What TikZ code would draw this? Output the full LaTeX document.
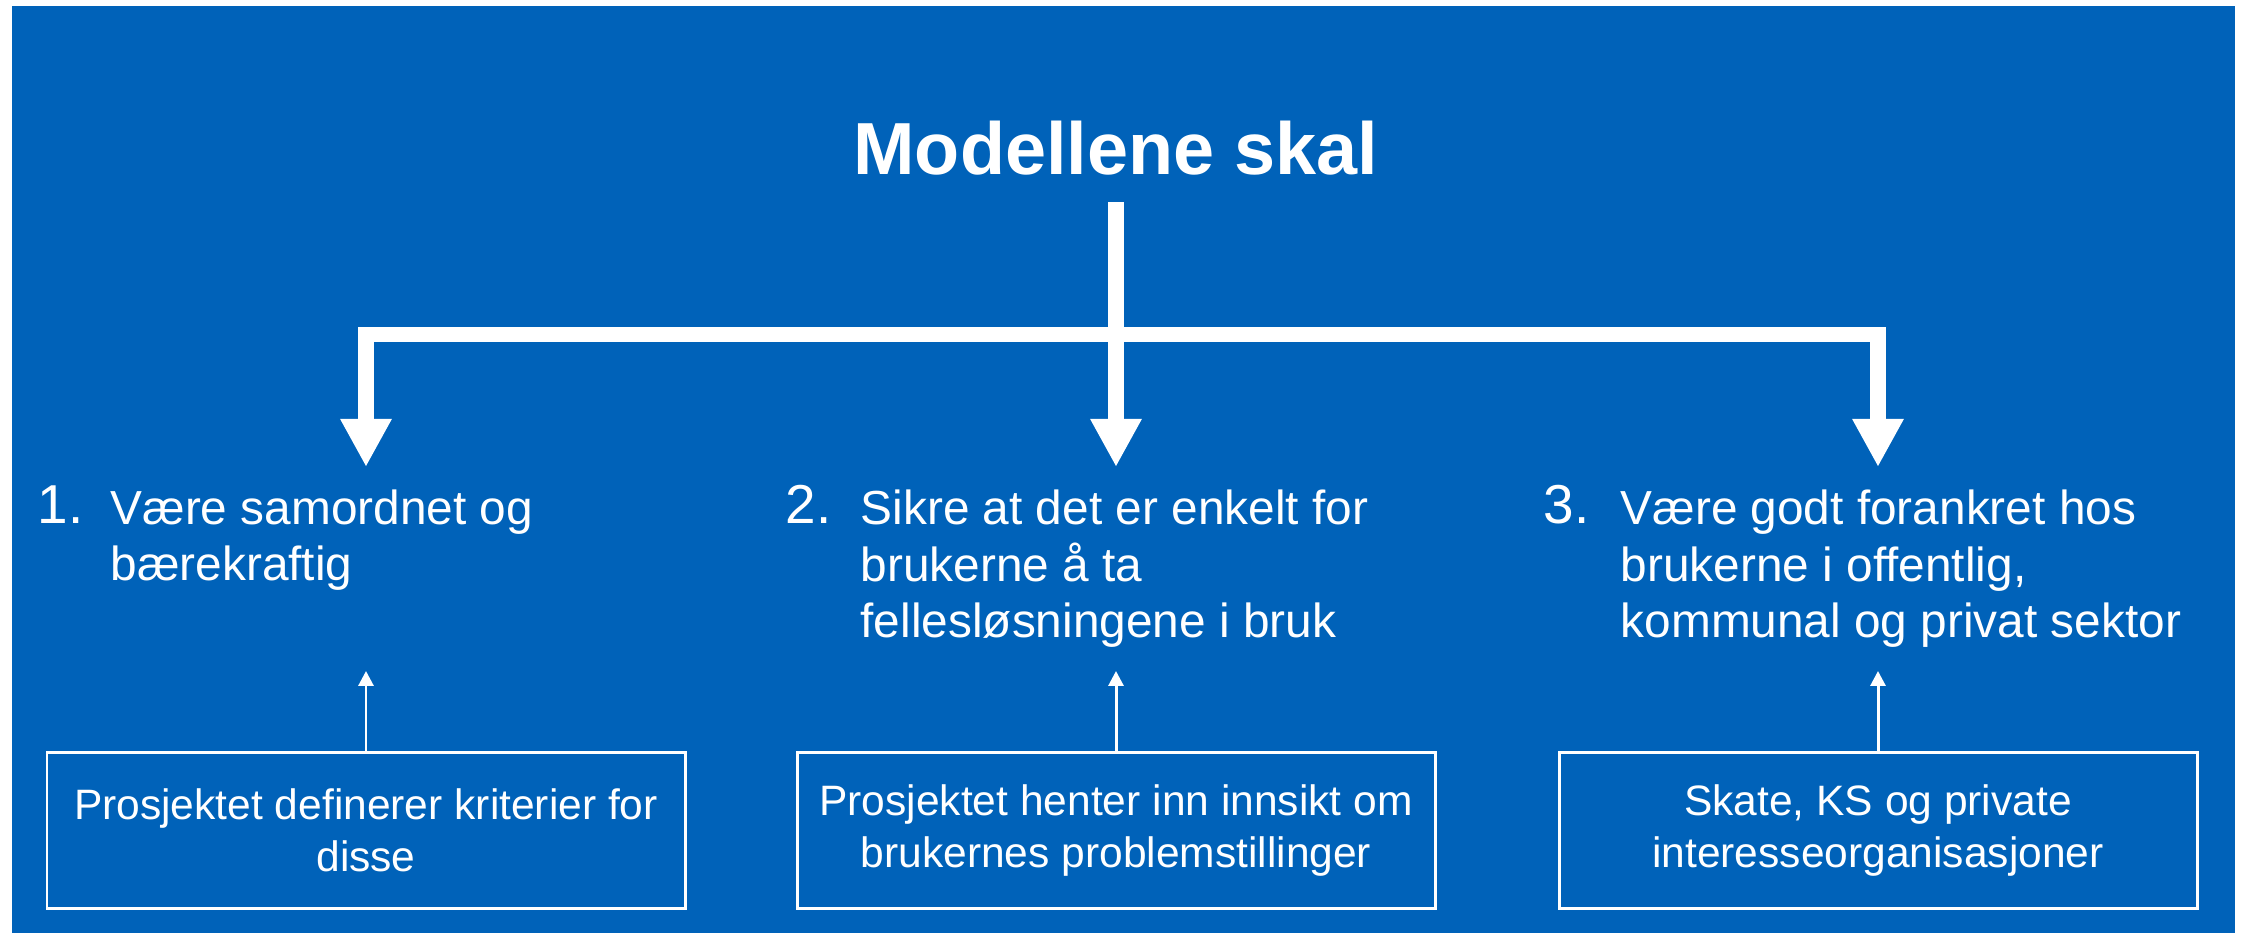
\documentclass[tikz,border=0pt]{standalone}
\usepackage{fontspec}
\setmainfont{Liberation Sans}
\usepackage{tikz}
\usetikzlibrary{arrows.meta, positioning}
\definecolor{digiblue}{RGB}{0,98,185}

\begin{document}
\begin{tikzpicture}[
    heading/.style={anchor=base, inner sep=2.6mm, text=white, font=\fontsize{21}{25}\selectfont\bfseries},
    itemnum/.style={anchor=base west, inner sep=0pt, text=white, font=\fontsize{15.6}{18}\selectfont},
    itemtext/.style={anchor=base west, inner sep=0pt, text=white, align=left, font=\fontsize{13.6}{16.2}\selectfont},
    infobox/.style={rectangle, draw=white, line width=0.85pt, minimum width=6.38cm, minimum height=1.56cm, align=center, text=white, font=\fontsize{12.1}{14.8}\selectfont},
    bigarrow/.style={-{Triangle[width=4.8mm, length=4.8mm]}, white, line width=1.55mm},
    smallarrow/.style={-{Triangle[width=1.5mm, length=1.5mm]}, white, line width=0.85pt}
]
    % Canvas
    \useasboundingbox (0, 0) rectangle (22.42, 9.33);
    \fill[digiblue] (0.12, 0) rectangle (22.35, 9.27);

    % Heading
    \node[heading] (title) at (11.16, 7.58) {Modellene skal};

    % Goals (base = baseline of the last line)
    \node[itemnum] (n1) at (0.37, 4.09) {1.};
    \node[itemtext] (g1) at (1.10, 3.52) {Være samordnet og\\bærekraftig};
    \node[itemnum] (n2) at (7.85, 4.09) {2.};
    \node[itemtext] (g2) at (8.60, 2.95) {Sikre at det er enkelt for\\brukerne å ta\\fellesløsningene i bruk};
    \node[itemnum] (n3) at (15.43, 4.09) {3.};
    \node[itemtext] (g3) at (16.20, 2.95) {Være godt forankret hos\\brukerne i offentlig,\\kommunal og privat sektor};

    % Arrow ends above the goals
    \coordinate (split) at (11.16, 5.985);
    \coordinate (in1) at (3.66, 4.66);
    \coordinate (in2) at (11.16, 4.66);
    \coordinate (in3) at (18.78, 4.66);

    % Boxes
    \node[infobox] (b1) at (3.66, 1.025) {Prosjektet definerer kriterier for\\disse};
    \node[infobox] (b2) at (11.16, 1.025) {Prosjektet henter inn innsikt om\\brukernes problemstillinger};
    \node[infobox] (b3) at (18.78, 1.025) {Skate, KS og private\\interesseorganisasjoner};

    \coordinate (out1) at (3.66, 2.62);
    \coordinate (out2) at (11.16, 2.62);
    \coordinate (out3) at (18.78, 2.62);

    % Branch arrows
    \draw[bigarrow] (title.south) -- (in2);
    \draw[bigarrow] (split) -| (in1);
    \draw[bigarrow] (split) -| (in3);

    % Box arrows
    \draw[smallarrow] (b1.north) -- (out1);
    \draw[smallarrow] (b2.north) -- (out2);
    \draw[smallarrow] (b3.north) -- (out3);
\end{tikzpicture}
\end{document}
